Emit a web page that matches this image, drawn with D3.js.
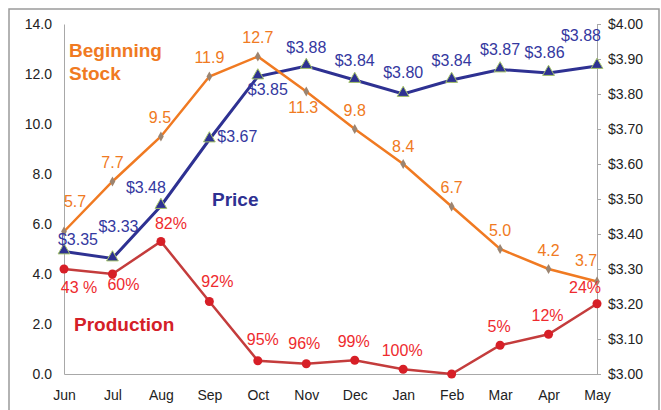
<!DOCTYPE html>
<html>
<head>
<meta charset="utf-8">
<script src="https://cdn.jsdelivr.net/npm/d3@7"></script>
<style>
  body { margin: 0; background: #fff; }
  svg { font-family: "Liberation Sans", Arial, sans-serif; }
  .axis text { font-size: 14px; fill: #222; }
  .axis path, .axis line { stroke: #a8a8a8; }
</style>
</head>
<body>
<div id="chart"></div>
<script>
// chart data
const months = ["Jun", "Jul", "Aug", "Sep", "Oct", "Nov", "Dec", "Jan", "Feb", "Mar", "Apr", "May"];
const stock = [5.7, 7.7, 9.5, 11.9, 12.7, 11.3, 9.8, 8.4, 6.7, 5.0, 4.2, 3.7];
const price = [3.35, 3.33, 3.48, 3.67, 3.85, 3.88, 3.84, 3.80, 3.84, 3.87, 3.86, 3.88];
const production = [4.2, 4.0, 5.3, 2.9, 0.53, 0.41, 0.55, 0.19, 0.0, 1.15, 1.59, 2.81];
const productionLabels = ["43 %", "60%", "82%", "92%", "95%", "96%", "99%", "100%", "", "5%", "12%", "24%"];
const leftTicks = [0, 2, 4, 6, 8, 10, 12, 14];
const rightTicks = [3.0, 3.1, 3.2, 3.3, 3.4, 3.5, 3.6, 3.7, 3.8, 3.9, 4.0];

// label offsets from each point (dx, dy)
const stockOff = [[11,-30],[0,-19],[-1,-19],[0,-19],[0,-19],[-3,16],[0,-19],[0,-18],[0,-19],[0,-19],[0,-19],[-11,-21]];
const priceOff = [[14,-12],[6,-32],[-15,-19],[28,-3],[10,13],[0,-19],[0,-20],[0,-22],[0,-20],[0,-20],[-4,-21],[-16,-31]];
const prodOff = [[15,18],[11,10],[10,-18],[8,-20],[5,-21],[-2,-20],[-1,-19],[-1,-19],[0,0],[-1,-19],[-1,-19],[-12,-16]];

const W = 661, H = 410;
const plot = { left: 64, right: 597, top: 24, bottom: 374 };

const orange = "#F07A22", blue = "#2E3192", red = "#EE2A2E", darkRed = "#C43C3C";

const svg = d3.select("#chart").append("svg")
    .attr("width", W)
    .attr("height", H);

// outer frame
svg.append("rect")
    .attr("x", 9).attr("y", 9)
    .attr("width", 650).attr("height", 420)
    .attr("fill", "none")
    .attr("stroke", "#9a9a9a")
    .attr("stroke-width", 1.5);

const x = d3.scalePoint().domain(months).range([plot.left, plot.right]);
const yL = d3.scaleLinear().domain([0, 14]).range([plot.bottom, plot.top]);
const yR = d3.scaleLinear().domain([3, 4]).range([plot.bottom, plot.top]);

svg.append("g")
    .attr("class", "axis")
    .attr("transform", `translate(${plot.left},0)`)
    .call(d3.axisLeft(yL).tickValues(leftTicks).tickFormat(d3.format(".1f")).tickSize(0).tickPadding(12));

svg.append("g")
    .attr("class", "axis")
    .attr("transform", `translate(${plot.right},0)`)
    .call(d3.axisRight(yR).tickValues(rightTicks).tickFormat(d => "$" + d.toFixed(2)).tickSizeInner(4).tickSizeOuter(0).tickPadding(7));

svg.append("g")
    .attr("class", "axis")
    .attr("transform", `translate(0,${plot.bottom})`)
    .call(d3.axisBottom(x).tickSize(0).tickPadding(16));

// production (left axis)
const prodLine = d3.line().x((d, i) => x(months[i])).y(d => yL(d));
svg.append("path")
    .attr("d", prodLine(production))
    .attr("fill", "none")
    .attr("stroke", darkRed)
    .attr("stroke-width", 2.5);
svg.selectAll(".prod-dot")
    .data(production)
    .join("circle")
    .attr("class", "prod-dot")
    .attr("cx", (d, i) => x(months[i]))
    .attr("cy", d => yL(d))
    .attr("r", 4.5)
    .attr("fill", "#D71F27");

// price (right axis)
const priceLine = d3.line().x((d, i) => x(months[i])).y(d => yR(d));
svg.append("path")
    .attr("d", priceLine(price))
    .attr("fill", "none")
    .attr("stroke", blue)
    .attr("stroke-width", 3);
svg.selectAll(".price-dot")
    .data(price)
    .join("path")
    .attr("class", "price-dot")
    .attr("transform", (d, i) => `translate(${x(months[i])},${yR(d) - 1})`)
    .attr("d", d3.symbol(d3.symbolTriangle, 60))
    .attr("fill", blue)
    .attr("stroke", "#A5C46A")
    .attr("stroke-width", 1);

// beginning stock (left axis)
const stockLine = d3.line().x((d, i) => x(months[i])).y(d => yL(d));
svg.append("path")
    .attr("d", stockLine(stock))
    .attr("fill", "none")
    .attr("stroke", orange)
    .attr("stroke-width", 2.5);
svg.selectAll(".stock-dot")
    .data(stock)
    .join("path")
    .attr("class", "stock-dot")
    .attr("transform", (d, i) => `translate(${x(months[i])},${yL(d)})`)
    .attr("d", d3.symbol(d3.symbolDiamond, 28))
    .attr("fill", "#9C8470");

// data labels
svg.selectAll(".stock-lab")
    .data(stock)
    .join("text")
    .attr("class", "stock-lab")
    .attr("x", (d, i) => x(months[i]) + stockOff[i][0])
    .attr("y", (d, i) => yL(d) + stockOff[i][1])
    .attr("dy", "0.35em")
    .attr("text-anchor", "middle")
    .attr("font-size", 16)
    .attr("fill", orange)
    .text(d => d.toFixed(1));

svg.selectAll(".price-lab")
    .data(price)
    .join("text")
    .attr("class", "price-lab")
    .attr("x", (d, i) => x(months[i]) + priceOff[i][0])
    .attr("y", (d, i) => yR(d) + priceOff[i][1])
    .attr("dy", "0.35em")
    .attr("text-anchor", "middle")
    .attr("font-size", 16)
    .attr("fill", "#3438A0")
    .text(d => "$" + d.toFixed(2));

svg.selectAll(".prod-lab")
    .data(production)
    .join("text")
    .attr("class", "prod-lab")
    .attr("x", (d, i) => x(months[i]) + prodOff[i][0])
    .attr("y", (d, i) => yL(d) + prodOff[i][1])
    .attr("dy", "0.35em")
    .attr("text-anchor", "middle")
    .attr("font-size", 16)
    .attr("fill", red)
    .text((d, i) => productionLabels[i]);

// series names
const names = svg.append("g").attr("font-weight", "bold").attr("font-size", 19);
names.append("text").attr("x", 69).attr("y", 50).attr("dy", "0.35em").attr("fill", orange).text("Beginning");
names.append("text").attr("x", 69).attr("y", 73).attr("dy", "0.35em").attr("fill", orange).text("Stock");
names.append("text").attr("x", 212).attr("y", 199).attr("dy", "0.35em").attr("fill", blue).text("Price");
names.append("text").attr("x", 74).attr("y", 324).attr("dy", "0.35em").attr("fill", "#D42027").text("Production");
</script>
</body>
</html>
